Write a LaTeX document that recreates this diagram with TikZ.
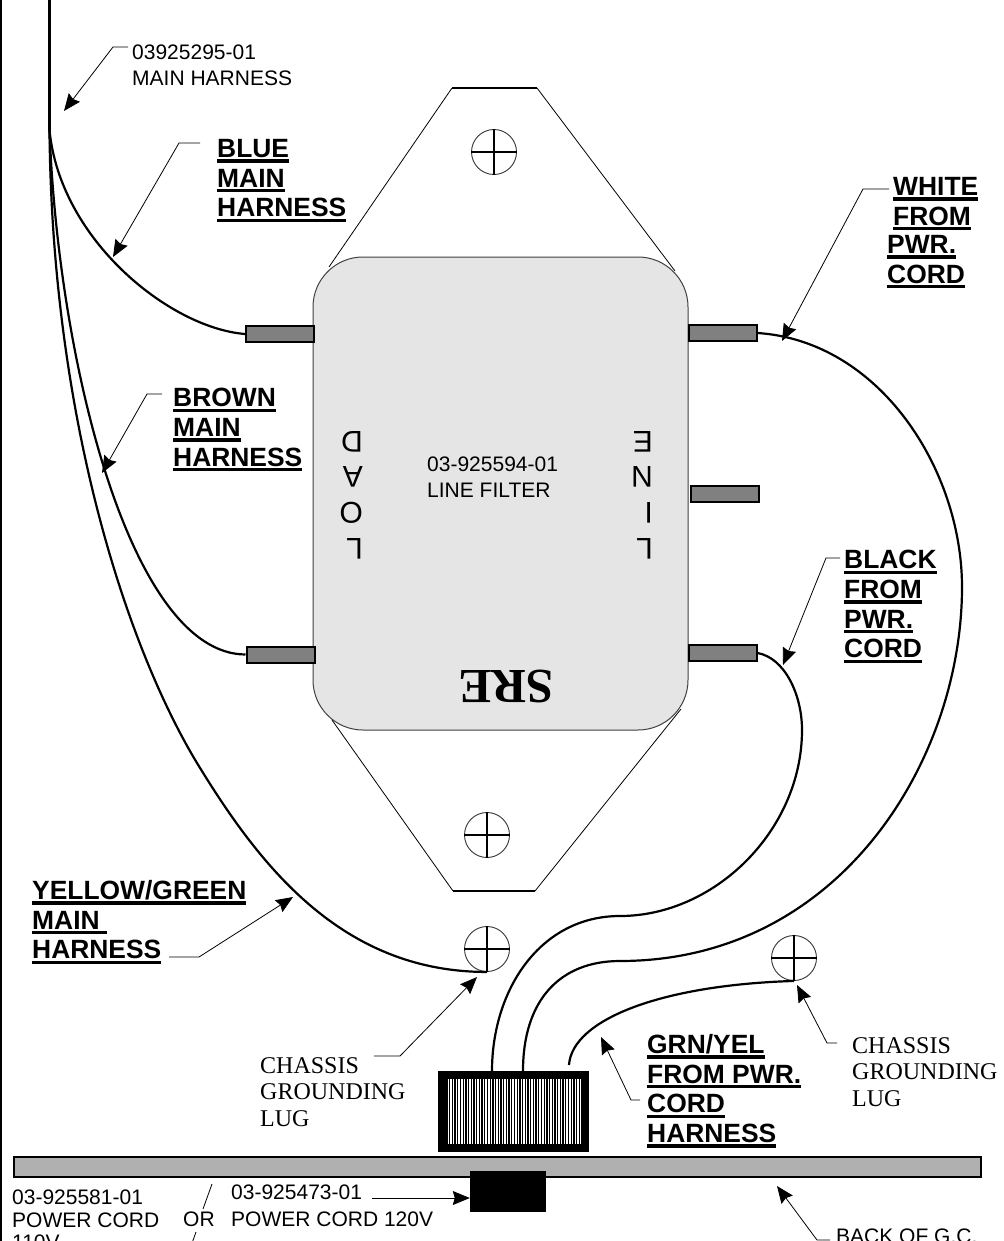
\documentclass[tikz,border=0pt]{standalone}
\usepackage{fontspec}
\setmainfont{Liberation Serif}
\setsansfont{Liberation Sans}
\usetikzlibrary{arrows.meta}
\definecolor{bodygray}{HTML}{E5E5E5}
\definecolor{tabgray}{HTML}{808080}
\definecolor{bargray}{HTML}{B0B0B0}
\newcommand{\ulbl}[1]{\setbox0\hbox{#1}\rlap{\vrule width\wd0 height -2pt depth 5.3pt}\box0}
\begin{document}
\begin{tikzpicture}[x=1pt,y=-1pt]
    \tikzstyle{boldlabel}=[font=\fontsize{26.4}{29.7}\selectfont\sffamily\bfseries,align=left,inner sep=0,anchor=north west]
    \tikzstyle{partlabel}=[font=\fontsize{21}{26}\selectfont\sffamily,align=left,inner sep=0,anchor=north west]
    \tikzstyle{lualabel}=[font=\fontsize{24}{26.5}\selectfont\rmfamily,align=left,inner sep=0,anchor=north west]
    \tikzstyle{letter}=[font=\fontsize{30}{30}\selectfont\sffamily,inner sep=0,anchor=west,rotate=180]
    \tikzstyle{tab}=[draw=black,line width=2,fill=tabgray,inner sep=0,minimum width=68,minimum height=16]
    \tikzstyle{screw}=[draw=black!80,line width=0.9,circle,inner sep=0,minimum size=45]
    \tikzstyle{cross}=[line width=1.6]
    \tikzstyle{wire}=[line width=2.2]
    \tikzstyle{flange}=[line width=0.8]
    \tikzstyle{flangeend}=[line width=1.8]
    \tikzstyle{leader}=[line width=0.8,-{Stealth[length=17,width=14,inset=2]}]

    \useasboundingbox (0,0) rectangle (1003,1241);
    \clip (0,0) rectangle (1003,1241);

    \draw[line width=2] (0.5,0) -- (0.5,1241);

    % filter flanges, behind the body
    \coordinate (ftl) at (452,88);
    \coordinate (ftr) at (537,88);
    \coordinate (fbl) at (453,891);
    \coordinate (fbr) at (535,891);
    \draw[flange] (ftl) -- (329,267);
    \draw[flange] (ftr) -- (675,271);
    \draw[flange] (fbl) -- (332,720);
    \draw[flange] (fbr) -- (681,709);
    \draw[flangeend] (ftl) -- (ftr);
    \draw[flangeend] (fbl) -- (fbr);

    \node[draw=black!75,line width=1,fill=bodygray,rounded corners=50,minimum width=375,minimum height=473,inner sep=0] at (500.5,493.5) (filter) {};

    \node[tab] at (280,334) (tabLT) {};
    \node[tab] at (280.5,654.5) (tabLB) {};
    \node[tab] at (722.5,333) (tabRT) {};
    \node[tab] at (724.5,494) (tabRM) {};
    \node[tab] at (722.5,653) (tabRB) {};

    \node[screw] at (494,152) (screwT) {};
    \node[screw] at (487,835) (screwB) {};
    \node[screw] at (487,949) (lugL) {};
    \node[screw] at (794,958) (lugR) {};
    \foreach \sc in {screwT,screwB,lugL,lugR} {
        \draw[cross] (\sc.north) -- (\sc.south);
        \draw[cross] (\sc.west) -- (\sc.east);
    }

    % power cord plug
    \node[draw=black,line width=8,fill=white,inner sep=0,minimum width=143,minimum height=73] at (513.5,1111.5) (plug) {};
    \foreach \hx in {447,449.7,...,581}
        \draw[line width=1.3] (\hx,1079) -- (\hx,1144);

    \node[draw=black,line width=2,fill=bargray,inner sep=0,minimum width=967,minimum height=20] at (497,1166.5) (panel) {};
    \node[fill=black,inner sep=0,minimum width=76,minimum height=41] at (508,1191.5) (socket) {};

    % wires
    \coordinate (mainTop) at (49.5,0);
    \coordinate (mainEnd) at (49.5,130);
    \coordinate (plugA) at (492,1071);
    \coordinate (plugB) at (523,1071);
    \coordinate (plugC) at (569,1065);
    \draw[wire,line width=2.8] (mainTop) -- (mainEnd);
    \draw[wire] (mainEnd) .. controls (60,240) and (170,328) .. (tabLT.west);
    \draw[wire] (mainEnd) .. controls (58,360) and (130,654) .. (tabLB.west);
    \draw[wire] (mainEnd) .. controls (52,420) and (127,647) .. (197,763)
        .. controls (258,863) and (340,972) .. (lugL.south);
    \draw[wire] (tabRT.east) .. controls (880,341) and (962,470) .. (962,587)
        .. controls (962,760) and (840,961) .. (620,961)
        .. controls (560,961) and (523,1000) .. (plugB);
    \draw[wire] (tabRB.east) .. controls (785,658) and (802,695) .. (802,730)
        .. controls (802,830) and (715,916) .. (620,916)
        .. controls (540,916) and (492,990) .. (plugA);
    \draw[wire] (plugC) .. controls (572,1020) and (660,985) .. (lugR.south);

    % filter lettering
    \node[partlabel] at (427,457) (filterlbl) {03-925594-01\\LINE FILTER};
    \foreach \ch/\yy in {D/442,A/477,O/513,L/549}
        \node[letter] at (363,\yy) (load\ch) {\ch};
    \foreach \ch/\yy in {E/442,N/477,I/513,L/549}
        \node[letter] at (653,\yy) (line\ch) {\ch};
    \node[font=\fontsize{49}{49}\selectfont\rmfamily\bfseries,inner sep=0,rotate=180] at (506,686) (sre) {SRE};

    % labels
    \node[partlabel] at (132,45) (harness) {03925295-01\\MAIN HARNESS};
    \node[boldlabel] at (217,139) (blue) {\ulbl{BLUE}\\\ulbl{MAIN}\\\ulbl{HARNESS}};
    \node[boldlabel] at (173,388) (brown) {\ulbl{BROWN}\\\ulbl{MAIN}\\\ulbl{HARNESS}};
    \node[boldlabel] at (893,177) (white) {\ulbl{WHITE}\\\ulbl{FROM}};
    \node[boldlabel] at (887,235) (whitepwr) {\ulbl{PWR.}\\\ulbl{CORD}};
    \node[boldlabel] at (844,550) (black) {\ulbl{BLACK}\\\ulbl{FROM}\\\ulbl{PWR.}\\\ulbl{CORD}};
    \node[boldlabel] at (32,880) (yellow) {\ulbl{YELLOW/GREEN}\\\ulbl{MAIN~}\\\ulbl{HARNESS}};
    \node[boldlabel] at (647,1034) (grnyel) {\ulbl{GRN/YEL}\\\ulbl{FROM PWR.}\\\ulbl{CORD}\\\ulbl{HARNESS}};
    \node[lualabel] at (260,1057) (chassisL) {CHASSIS\\GROUNDING\\LUG};
    \node[lualabel] at (852,1037) (chassisR) {CHASSIS\\GROUNDING\\LUG};
    \node[partlabel,font=\fontsize{21}{22.5}\selectfont\sffamily] at (12,1190) (cord110) {03-925581-01\\POWER CORD\\110V};
    \node[partlabel] at (183,1212) (orlbl) {OR};
    \node[partlabel] at (231,1185) (cord120a) {03-925473-01};
    \node[partlabel] at (231,1212) (cord120b) {POWER CORD 120V};
    \node[partlabel] at (836,1229) (back) {BACK OF G.C.};

    % leaders
    \coordinate (harnessS) at (128,47);
    \coordinate (harnessK) at (113,47);
    \coordinate (harnessT) at (64,111);
    \draw[leader] (harnessS) -- (harnessK) -- (harnessT);
    \coordinate (blueS) at (200,143);
    \coordinate (blueK) at (179,143);
    \coordinate (blueT) at (113,257);
    \draw[leader] (blueS) -- (blueK) -- (blueT);
    \coordinate (brownS) at (162,394);
    \coordinate (brownK) at (147,394);
    \coordinate (brownT) at (102,473);
    \draw[leader] (brownS) -- (brownK) -- (brownT);
    \coordinate (whiteS) at (889,189);
    \coordinate (whiteK) at (863,189);
    \coordinate (whiteT) at (782,341);
    \draw[leader] (whiteS) -- (whiteK) -- (whiteT);
    \coordinate (blackS) at (840,558);
    \coordinate (blackK) at (826,558);
    \coordinate (blackT) at (783,665);
    \draw[leader] (blackS) -- (blackK) -- (blackT);
    \coordinate (yellowS) at (169,957);
    \coordinate (yellowK) at (199,957);
    \coordinate (yellowT) at (293,897);
    \draw[leader] (yellowS) -- (yellowK) -- (yellowT);
    \coordinate (chassisLS) at (374,1056);
    \coordinate (chassisLK) at (400,1056);
    \coordinate (chassisLT) at (477,977);
    \draw[leader] (chassisLS) -- (chassisLK) -- (chassisLT);
    \coordinate (chassisRS) at (837,1043);
    \coordinate (chassisRK) at (827,1043);
    \coordinate (chassisRT) at (797,985);
    \draw[leader] (chassisRS) -- (chassisRK) -- (chassisRT);
    \coordinate (grnyelS) at (640,1100);
    \coordinate (grnyelK) at (631,1100);
    \coordinate (grnyelT) at (601,1037);
    \draw[leader] (grnyelS) -- (grnyelK) -- (grnyelT);
    \coordinate (backS) at (830,1240);
    \coordinate (backK) at (817,1240);
    \coordinate (backT) at (777,1186);
    \draw[leader] (backS) -- (backK) -- (backT);
    \coordinate (cordS) at (372,1198);
    \draw[leader] (cordS) -- (socket.west |- cordS);

    % the two strokes either side of OR
    \coordinate (orA) at (212,1184);
    \coordinate (orB) at (203,1209);
    \coordinate (orC) at (196,1232);
    \coordinate (orD) at (191,1246);
    \draw[flange] (orA) -- (orB);
    \draw[flange] (orC) -- (orD);
\end{tikzpicture}
\end{document}
